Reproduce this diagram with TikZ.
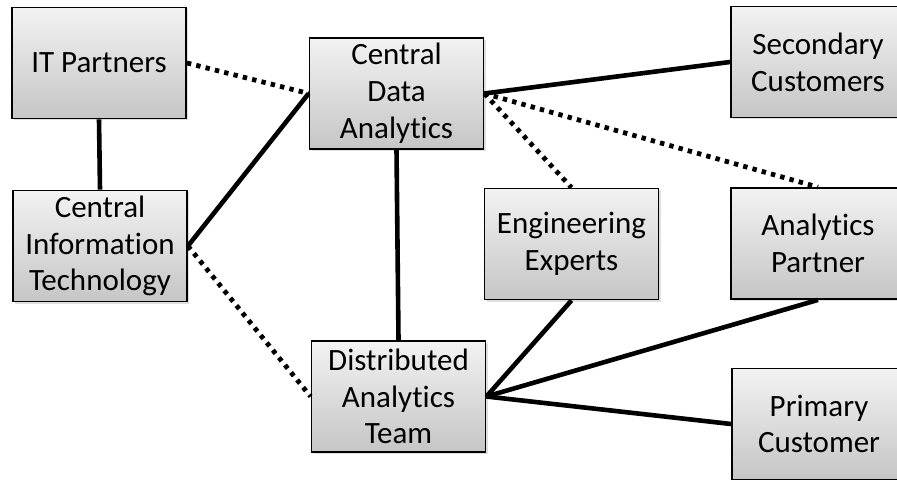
\documentclass[tikz,border=0pt]{standalone}
\usepackage{fontspec}
\setmainfont[Ligatures=NoCommon]{Carlito}
\usetikzlibrary{shadows}

\begin{document}
\begin{tikzpicture}[x=0.5pt, y=-0.5pt,
        unit/.style={draw, rectangle, line width=0.9pt, top color=gray!10, bottom color=gray!45,
          drop shadow={opacity=0.25, shadow xshift=1pt, shadow yshift=-1pt},
          minimum width=87pt, minimum height=55.5pt, inner sep=0pt, align=center,
          font=\fontsize{15.5}{18.4}\selectfont},
        link/.style={line width=2.3pt},
        loose/.style={line width=2.4pt, dash pattern=on 2.2pt off 2.6pt}]
        \useasboundingbox (0,0) rectangle (897,480);
        \node[unit] (itp) at (99,63) {IT Partners};
        \node[unit] (cit) at (100,246) {Central\\Information\\Technology};
        \node[unit] (cda) at (396.5,93.5) {Central\\Data\\Analytics};
        \node[unit] (dat) at (398.5,396.5) {Distributed\\Analytics\\Team};
        \node[unit] (eng) at (571.5,244) {Engineering\\Experts};
        \node[unit] (sec) at (818,62) {Secondary\\Customers};
        \node[unit] (ap) at (818,243.5) {Analytics\\Partner};
        \node[unit] (pc) at (819,424) {Primary\\Customer};
        % solid links
        \draw[link] (itp.south) -- (cit.north);
        \draw[link] (cit.east) -- (cda.west);
        \draw[link] (cda.south) -- (dat.north);
        \draw[link] (cda.east) -- (sec.west);
        \draw[link] (dat.east) -- (eng.south);
        \draw[link] (dat.east) -- (ap.south);
        \draw[link] (dat.east) -- (pc.west);
        % dotted links
        \draw[loose] (itp.east) -- (cda.west);
        \draw[loose] (cit.east) -- (dat.west);
        \draw[loose] (cda.east) -- (eng.north);
        \draw[loose] (cda.east) -- (ap.north);
    \end{tikzpicture}
\end{document}
